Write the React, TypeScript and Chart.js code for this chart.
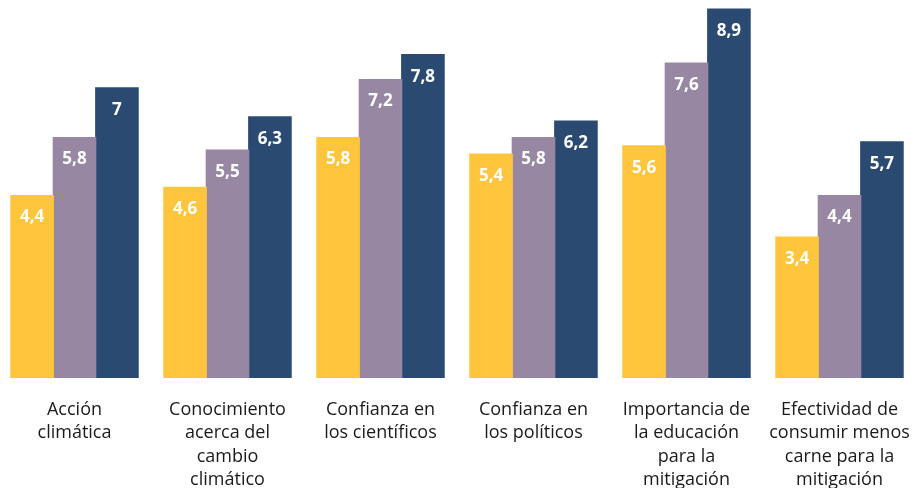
import React, { useEffect, useRef } from "react";
import { Chart, registerables } from "chart.js";

Chart.register(...registerables);

const categories: string[][] = [
  ["Acción", "climática"],
  ["Conocimiento", "acerca del", "cambio", "climático"],
  ["Confianza en", "los científicos"],
  ["Confianza en", "los políticos"],
  ["Importancia de", "la educación", "para la", "mitigación"],
  ["Efectividad de", "consumir menos", "carne para la", "mitigación"],
];
const seriesA = [4.4, 4.6, 5.8, 5.4, 5.6, 3.4];
const seriesB = [5.8, 5.5, 7.2, 5.8, 7.6, 4.4];
const seriesC = [7, 6.3, 7.8, 6.2, 8.9, 5.7];
const colors = ["#FFC53D", "#9887A3", "#2B4A72"];

const valueLabels = {
  id: "valueLabels",
  afterDatasetsDraw(chart: any) {
    const ctx = chart.ctx;
    ctx.save();
    ctx.fillStyle = "#ffffff";
    ctx.font = "bold 17px 'Open Sans', sans-serif";
    ctx.textAlign = "center";
    ctx.textBaseline = "middle";
    chart.data.datasets.forEach((ds: any, i: number) => {
      const meta = chart.getDatasetMeta(i);
      meta.data.forEach((el: any, j: number) => {
        const v = ds.data[j] as number;
        const txt = String(v).replace(".", ",");
        ctx.fillText(txt, el.x, el.y + 22);
      });
    });
    ctx.restore();
  },
};

export default function App() {
  const ref = useRef<HTMLCanvasElement>(null);
  useEffect(() => {
    document.body.style.margin = "0";
    const chart = new Chart(ref.current!, {
      type: "bar",
      data: {
        labels: categories,
        datasets: [seriesA, seriesB, seriesC].map((d, i) => ({
          data: d,
          backgroundColor: colors[i],
          borderWidth: 0,
          inflateAmount: 0.6,
          barPercentage: 1,
          categoryPercentage: 0.832,
        })),
      },
      options: {
        animation: false,
        responsive: false,
        maintainAspectRatio: false,
        layout: { padding: 0 },
        plugins: { legend: { display: false }, tooltip: { enabled: false } },
        scales: {
          y: { display: false, min: 0, max: 9.12 },
          x: {
            grid: { display: false, drawTicks: false },
            border: { display: false },
            ticks: {
              autoSkip: false,
              maxRotation: 0,
              minRotation: 0,
              padding: 20,
              color: "#1a1a1a",
              font: { family: "'Open Sans', sans-serif", size: 18, lineHeight: 1.3 },
            },
            afterFit(scale: any) {
              scale.height = 110;
              scale.paddingLeft = 0;
              scale.paddingRight = 0;
            },
          },
        },
      },
      plugins: [valueLabels],
    });
    return () => chart.destroy();
  }, []);
  return (
    <div style={{ position: "fixed", left: -2, top: 0, width: 918, height: 488 }}>
      <canvas ref={ref} width={918} height={488} />
    </div>
  );
}
